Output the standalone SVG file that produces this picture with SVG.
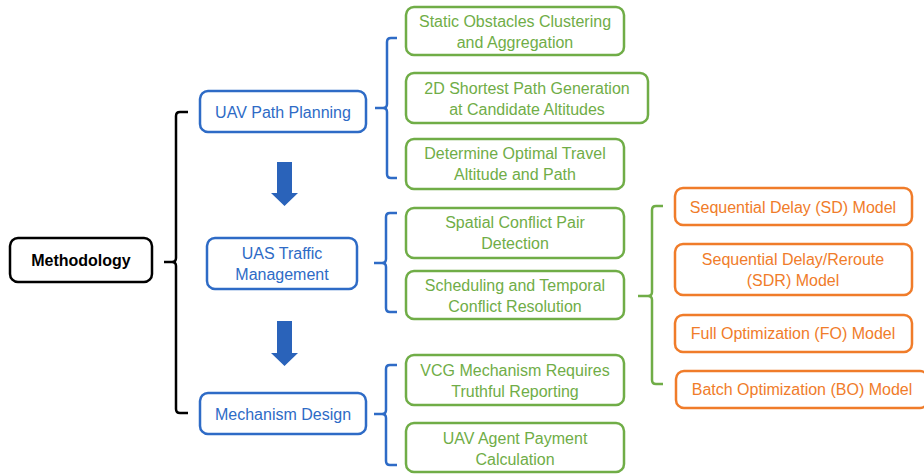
<svg xmlns="http://www.w3.org/2000/svg" width="924" height="474" viewBox="0 0 924 474">
<style>
text{font-family:"Liberation Sans",Arial,sans-serif;font-size:16px;text-anchor:middle;dominant-baseline:central}
.k rect{fill:#fff;stroke:#000;stroke-width:2.5}
.b rect{fill:#fff;stroke:#2E6BC6;stroke-width:2.5}
.b text{fill:#2E6BC6}
.g rect{fill:#fff;stroke:#70AD47;stroke-width:2.5}
.g text{fill:#70AD47}
.o rect{fill:#fff;stroke:#F07C2A;stroke-width:2.5}
.o text{fill:#F07C2A}
.br{fill:none;stroke-width:2.5;stroke-linejoin:round}
</style>
<g id="connectors">
<path class="br" stroke="#000" d="M188,112 H180 Q176,112 176,116 V258 Q176,262 172,262 H164 M172,262 Q176,262 176,266 V409 Q176,413 180,413 H188"/>
<path class="br" stroke="#2E6BC6" d="M397,38 H391 Q387,38 387,42 V104 Q387,108 383,108 H375 M383,108 Q387,108 387,112 V174 Q387,178 391,178 H397"/>
<path class="br" stroke="#2E6BC6" d="M397,213 H390 Q386,213 386,217 V259 Q386,263 382,263 H374 M382,263 Q386,263 386,267 V308 Q386,312 390,312 H397"/>
<path class="br" stroke="#2E6BC6" d="M397,365 H390 Q386,365 386,369 V410 Q386,414 382,414 H374 M382,414 Q386,414 386,418 V461 Q386,465 390,465 H397"/>
<path class="br" stroke="#70AD47" d="M663,206 H656 Q652,206 652,210 V292 Q652,296 648,296 H638 M648,296 Q652,296 652,300 V380 Q652,384 656,384 H663"/>
<polygon fill="#2A63BA" points="277,162 292,162 292,193 298,193 284.5,206 271,193 277,193"/>
<polygon fill="#2A63BA" points="277,321 292,321 292,353 298,353 284.5,366 271,353 277,353"/>
</g>
<g id="methodology" class="k"><rect x="10" y="238" width="142" height="44" rx="8"/><text x="81" y="260" font-weight="bold">Methodology</text></g>
<g id="uav-path-planning" class="b"><rect x="200" y="91" width="166" height="41" rx="8"/><text x="283" y="112">UAV Path Planning</text></g>
<g id="uas-traffic-management" class="b"><rect x="207" y="238" width="150" height="51" rx="8"/><text x="282" y="253">UAS Traffic</text><text x="282" y="274">Management</text></g>
<g id="mechanism-design" class="b"><rect x="200" y="393" width="166" height="41" rx="8"/><text x="283" y="414">Mechanism Design</text></g>
<g id="static-obstacles" class="g"><rect x="406" y="7" width="218" height="48" rx="8"/><text x="515" y="21">Static Obstacles Clustering</text><text x="515" y="42">and Aggregation</text></g>
<g id="shortest-path" class="g"><rect x="406" y="73" width="242" height="50" rx="8"/><text x="527" y="88">2D Shortest Path Generation</text><text x="527" y="109">at Candidate Altitudes</text></g>
<g id="optimal-altitude" class="g"><rect x="406" y="139" width="218" height="50" rx="8"/><text x="515" y="153">Determine Optimal Travel</text><text x="515" y="174">Altitude and Path</text></g>
<g id="spatial-conflict" class="g"><rect x="406" y="208" width="218" height="50" rx="8"/><text x="515" y="222">Spatial Conflict Pair</text><text x="515" y="243">Detection</text></g>
<g id="scheduling" class="g"><rect x="406" y="271" width="218" height="48" rx="8"/><text x="515" y="285">Scheduling and Temporal</text><text x="515" y="306">Conflict Resolution</text></g>
<g id="vcg" class="g"><rect x="406" y="355" width="218" height="50" rx="8"/><text x="515" y="370">VCG Mechanism Requires</text><text x="515" y="391">Truthful Reporting</text></g>
<g id="payment" class="g"><rect x="406" y="423" width="218" height="49" rx="8"/><text x="515" y="438">UAV Agent Payment</text><text x="515" y="459">Calculation</text></g>
<g id="sd-model" class="o"><rect x="675" y="188" width="237" height="37" rx="8"/><text x="793" y="207">Sequential Delay (SD) Model</text></g>
<g id="sdr-model" class="o"><rect x="675" y="244" width="237" height="51" rx="8"/><text x="793" y="259">Sequential Delay/Reroute</text><text x="793" y="280">(SDR) Model</text></g>
<g id="fo-model" class="o"><rect x="675" y="315" width="237" height="37" rx="8"/><text x="793" y="333">Full Optimization (FO) Model</text></g>
<g id="bo-model" class="o"><rect x="676" y="371" width="252" height="37" rx="8"/><text x="802" y="389">Batch Optimization (BO) Model</text></g>
</svg>
